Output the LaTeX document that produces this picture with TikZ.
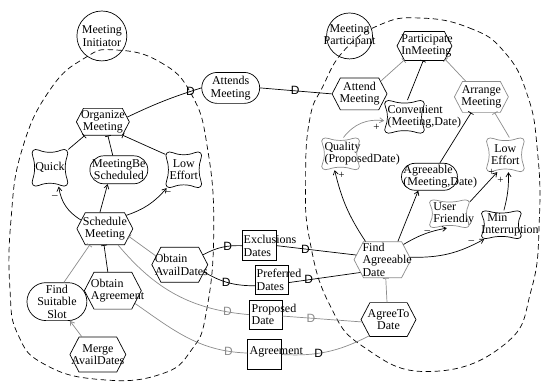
\documentclass[tikz,border=0pt]{standalone}
\usepackage{fontspec}
\setmainfont{Liberation Serif}
\setsansfont{Liberation Sans}
\usetikzlibrary{shapes.symbols,shapes.misc,arrows.meta}

\definecolor{lgray}{gray}{0.55}
% zero-width text lines, centred or starting at an offset from the node centre
\newcommand\mkC[1]{\makebox[0pt]{#1}}
\newcommand\mkL[2]{\makebox[0pt][l]{\hspace*{#1pt}#2}}
% soft-goal outline: a cloud-like pillow drawn around a named node
\newcommand\pillow[4]{%
  \draw[#4, shift={(#1.center)}, x=#2pt, y=#3pt]
    (-0.6,-0.95) .. controls (-0.25,-0.8) and (0.25,-0.8) .. (0.6,-0.95)
    .. controls (0.9,-1.08) and (1.08,-0.9) .. (0.95,-0.6)
    .. controls (0.82,-0.25) and (0.82,0.25) .. (0.95,0.6)
    .. controls (1.08,0.9) and (0.9,1.08) .. (0.6,0.95)
    .. controls (0.25,0.8) and (-0.25,0.8) .. (-0.6,0.95)
    .. controls (-0.9,1.08) and (-1.08,0.9) .. (-0.95,0.6)
    .. controls (-0.82,0.25) and (-0.82,-0.25) .. (-0.95,-0.6)
    .. controls (-1.08,-0.9) and (-0.9,-1.08) .. cycle;}

\begin{document}
\begin{tikzpicture}[x=1pt, y=-1pt, line width=0.7pt,
  every node/.style={font=\fontsize{12}{12.5}\selectfont, align=center, inner sep=0pt},
  actor/.style={circle, draw},
  task/.style={signal, signal to=east and west, signal pointer angle=125, draw},
  goal/.style={rounded rectangle, draw},
  soft/.style={rectangle},
  res/.style={rectangle, draw},
  dlab/.style={font=\sffamily\fontsize{12}{12}\selectfont},
  sign/.style={font=\fontsize{11}{11}\selectfont},
  tick/.style={-{Bar[width=6pt]}},
  arr/.style={-{Straight Barb[length=4pt,width=5pt]}},
  bound/.style={dash pattern=on 5.5pt off 3.5pt},
  faint/.style={draw=lgray},
]
\fill[white] (0,0) rectangle (541,384);

% actor boundaries
\draw[bound] plot[smooth cycle, tension=0.8] coordinates {(115,50) (160,62) (192,95) (208,150) (214,230) (207,310) (192,350) (160,375) (100,380) (45,365) (18,335) (10,290) (11,220) (22,150) (50,90) (85,58)};
\draw[bound] plot[smooth cycle, tension=0.8] coordinates {(420,18) (470,28) (505,52) (528,95) (538,150) (540,220) (532,290) (505,345) (430,372) (365,348) (330,305) (310,240) (306,180) (310,120) (323,87) (345,50) (380,25)};

% actors
\node[actor, minimum size=50pt] (mi) at (102,36) {\mkC{Meeting}\\\mkC{Initiator}};
\node[actor, minimum size=46pt] (mp) at (350,36) {\mkC{Meeting}\\\mkC{Participant}};

% meeting initiator
\node[task, minimum width=53pt, minimum height=27pt] (om) at (103,122) {\mkC{Organize}\\\mkC{Meeting}};
\node[soft, minimum width=36pt, minimum height=37pt] (qk) at (50,168) {\mkC{Quick}};
\node[goal, minimum width=58pt, minimum height=28pt] (mbs) at (119,170) {\mkC{MeetingBe}\\\mkC{Scheduled}};
\node[soft, minimum width=36pt, minimum height=36pt] (lel) at (184,170) {\mkC{Low}\\\mkC{Effort}};
\node[task, minimum width=56pt, minimum height=32pt] (sm) at (105,229) {\mkC{Schedule}\\\mkC{Meeting}};
\node[task, minimum width=56pt, minimum height=35pt] (oad) at (180,265) {\mkL{-25}{Obtain}\\\mkL{-25}{AvailDates}};
\node[task, minimum width=57pt, minimum height=37pt] (oa) at (113,291) {\mkL{-22}{Obtain}\\\mkL{-22}{Agreement}};
\node[goal, minimum width=60pt, minimum height=38pt] (fss) at (57,302) {\mkC{Find}\\\mkC{Suitable}\\\mkC{Slot}};
\node[task, minimum width=56pt, minimum height=35pt] (mad) at (98,355) {\mkC{Merge}\\\mkC{AvailDates}};

% dependums
\node[goal, minimum width=58pt, minimum height=31pt] (am) at (231,88) {\mkC{Attends}\\\mkC{Meeting}};
\node[res, minimum width=34pt, minimum height=30pt] (ed) at (260,246) {\mkL{-16}{Exclusions}\\\mkL{-16}{Dates}};
\node[res, minimum width=33pt, minimum height=29pt] (pd) at (272,280) {\mkL{-15}{Preferred}\\\mkL{-15}{Dates}};
\node[res, minimum width=33pt, minimum height=29pt] (prd) at (266,315) {\mkL{-14}{Proposed}\\\mkL{-14}{Date}};
\node[res, minimum width=34pt, minimum height=30pt] (ag) at (265,355) {\mkL{-15}{Agreement}\\[-5pt]\mbox{}};

% meeting participant
\node[task, minimum width=55pt, minimum height=29pt] (pim) at (425,46) {\mkL{-23}{Participate}\\\mkL{-23}{InMeeting}};
\node[task, minimum width=55pt, minimum height=32pt] (atm) at (360,94) {\mkC{Attend}\\\mkC{Meeting}};
\node[task, draw=lgray, minimum width=54pt, minimum height=31pt] (arm) at (482,97) {\mkC{Arrange}\\\mkC{Meeting}};
\node[soft, minimum width=40pt, minimum height=33pt] (cv) at (405,117) {\mkL{-17}{Convenient}\\\mkL{-17}{(Meeting,Date)}};
\node[soft, minimum width=38pt, minimum height=32pt] (ql) at (341,154) {\mkL{-16}{Quality}\\\mkL{-16}{(ProposedDate)}};
\node[goal, minimum width=56pt, minimum height=27pt] (agr) at (430,177) {\mkL{-26}{Agreeable}\\\mkL{-26}{(Meeting,Date)}};
\node[soft, minimum width=38pt, minimum height=34pt] (ler) at (506,155) {\mkC{Low}\\\mkC{Effort}};
\node[soft, minimum width=40pt, minimum height=28pt] (uf) at (450,214) {\mkL{-16}{User}\\\mkL{-16}{Friendly}};
\node[soft, minimum width=40pt, minimum height=28pt] (mn) at (502,225) {\mkL{-14}{Min}\\\mkL{-20}{Interruption}};
\node[task, draw=lgray, minimum width=57pt, minimum height=36pt] (fad) at (383,260) {\mkL{-20}{Find}\\\mkL{-20}{Agreeable}\\\mkL{-20}{Date}};
\node[task, minimum width=55pt, minimum height=34pt] (atd) at (389,320) {\mkC{AgreeTo}\\\mkC{Date}};

% soft-goal outlines
\pillow{qk}{18}{18.5}{black}
\pillow{lel}{18}{18}{black}
\pillow{cv}{20}{16.5}{black}
\pillow{ql}{19}{16}{lgray}
\pillow{ler}{19}{17}{lgray}
\pillow{uf}{20}{14}{lgray}
\pillow{mn}{20}{14}{black}

% links inside the meeting initiator
\draw[tick] (qk.45) -- (om.217);
\draw[tick] (mbs.113) -- (om.-70);
\draw[tick] (lel.140) -- (om.-34);
\draw[arr] (sm.160) to[bend left=25] (qk.-65);
\draw[arr] (sm.107) -- (mbs.-128);
\draw[arr] (sm.32) to[bend right=15] (lel.-133);
\draw[tick, faint] (fss.70) -- (sm.-133);
\draw[tick] (oa.105) -- (sm.-93);
\draw[tick, faint] (oad.160) -- (sm.-18);
\draw[arr, faint] (mad.132) -- (fss.-56);

% dependencies
\draw (om.11) to[bend left=4] node[dlab, pos=0.87] (d1) {D} (am.180);
\draw (am.0) -- node[dlab, pos=0.49] (d2) {D} (atm.180);
\draw (oad.23) to[bend left=15] node[dlab, pos=0.65] (d3) {D} (ed.180);
\draw (ed.0) -- node[dlab, pos=0.36] (d4) {D} (fad.170);
\draw (oad.-17) to[bend right=15] node[dlab, pos=0.45] (d5) {D} (pd.-160);
\draw (pd.-10) -- node[dlab, pos=0.28] (d6) {D} (fad.-150);
\draw[faint] (sm.-51) to[out=-50, in=175] node[dlab, text=lgray, pos=0.87] (d7) {D} (prd.180);
\draw[faint] (prd.-5) -- node[dlab, text=lgray, pos=0.36] (d8) {D} (atd.-175);
\draw[faint] (oa.-30) to[out=-35, in=178] node[dlab, text=lgray, pos=0.86] (d9) {D} (ag.175);
\draw[faint] (ag.0) to[bend right=15] node[dlab, pos=0.4] (d10) {D} (atd.-140);

% links inside the meeting participant
\draw[tick, faint] (atm.31) -- (pim.-145);
\draw[tick] (cv.80) -- (pim.-95);
\draw[tick, faint] (arm.135) -- (pim.-33);
\draw[arr, faint] (ql.80) to[bend left=30] (cv.-169);
\draw[tick] (agr.53) -- (arm.-123);
\draw[tick, faint] (ler.77) -- (arm.-50);
\draw[arr] (fad.133) to[bend left=10] (ql.-110);
\draw[arr] (fad.50) -- (agr.-129);
\draw[arr] (fad.36) to[bend left=10] (uf.-100);
\draw[arr] (fad.5) to[bend right=15] (mn.-140);
\draw[arr] (uf.30) -- (ler.-115);
\draw[arr] (mn.80) to[bend right=8] (ler.-80);
\draw[tick, faint] (atd.95) -- (fad.-80);

% contribution signs
\node[sign] (s1) at (55,197) {--};
\node[sign] (s2) at (168,193) {--};
\node[sign] (s3) at (377,128) {+};
\node[sign] (s4) at (342,176) {+};
\node[sign] (s5) at (428,232) {--};
\node[sign] (s6) at (472,242) {--};
\node[sign] (s7) at (492,173) {+};
\node[sign] (s8) at (501,181) {+};
\end{tikzpicture}
\end{document}
